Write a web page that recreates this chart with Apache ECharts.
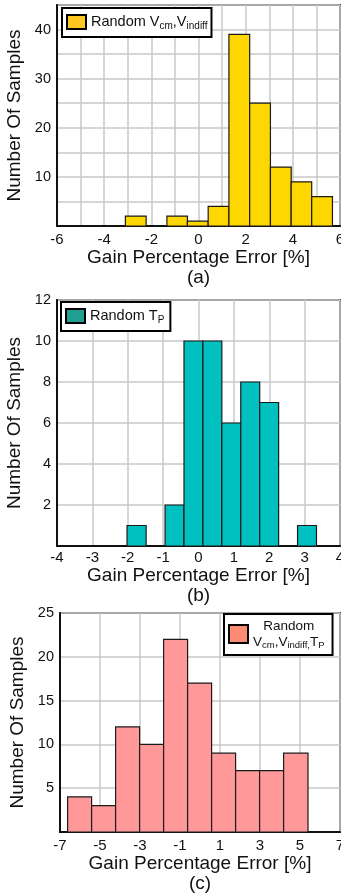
<!DOCTYPE html>
<html lang="en">
<head>
<meta charset="UTF-8">
<title>Gain Percentage Error</title>
<style>
    html, body { margin: 0; padding: 0; background: #fff; }
    #main { width: 341px; height: 894px; }
</style>
</head>
<body>
<div id="main"></div>
<script src="https://cdn.jsdelivr.net/npm/echarts/dist/echarts.min.js"></script>
<script>
// bin edges + counts
var edgesA = [-3.1, -2.22, -1.34, -0.47, 0.41, 1.29, 2.17, 3.05, 3.93, 4.8, 5.68];
var countsA = [2, 0, 2, 1, 4, 39, 25, 12, 9, 6];
var edgesB = [-2.02, -1.48, -0.945, -0.41, 0.125, 0.66, 1.195, 1.73, 2.265, 2.8, 3.335];
var countsB = [1, 0, 2, 10, 10, 6, 8, 7, 0, 1];
var edgesC = [-6.62, -5.42, -4.22, -3.02, -1.82, -0.62, 0.58, 1.78, 2.98, 4.18, 5.4];
var countsC = [4, 3, 12, 10, 22, 17, 9, 7, 7, 9];

// axis ranges [min, max, interval]
var xAxisA = [-6, 6, 1], yAxisA = [0, 45, 5];
var xAxisB = [-4, 4, 1], yAxisB = [0, 12, 2];
var xAxisC = [-7, 7, 2], yAxisC = [0, 25, 5];

var seriesNames = ['Random Vcm,Vindiff', 'Random TP', 'Random Vcm,Vindiff,TP'];
var subTitles = ['(a)', '(b)', '(c)'];

var FONT = '"Liberation Sans", Arial, sans-serif';

function toBins(edges, counts) {
    var out = [];
    for (var i = 0; i < counts.length; i++) {
        if (counts[i] > 0) out.push([edges[i], edges[i + 1], counts[i]]);
    }
    return out;
}

function renderBar(params, api) {
    var p0 = api.coord([api.value(0), api.value(2)]);
    var p1 = api.coord([api.value(1), 0]);
    return {
        type: 'rect',
        shape: { x: p0[0], y: p0[1], width: p1[0] - p0[0], height: p1[1] - p0[1] },
        style: api.style({ stroke: '#1a1a1a', lineWidth: 1.2 })
    };
}

var grids = [
    { left: 57, top: 5, width: 283, height: 221 },
    { left: 57, top: 300, width: 283, height: 246 },
    { left: 60, top: 613, width: 280, height: 219 }
];
grids.forEach(function (g) {
    g.show = true;
    g.borderColor = '#444';
    g.borderWidth = 2;
    g.backgroundColor = '#fff';
    g.outerBoundsMode = 'none';
    g.containLabel = false;
});

var nameGaps = [22, 17, 20];
var labelMargins = [6, 4, 6];

function xAxisOf(i, r, labelFn) {
    return {
        type: 'value', gridIndex: i, min: r[0], max: r[1], interval: r[2],
        name: 'Gain Percentage Error [%]\n' + subTitles[i],
        nameLocation: 'middle', nameGap: nameGaps[i],
        nameTextStyle: { fontSize: 19, lineHeight: 20, color: '#111', fontFamily: FONT },
        axisLine: { onZero: false, lineStyle: { color: '#111', width: 2 } },
        axisTick: { show: false },
        axisLabel: { fontSize: 15, color: '#111', fontFamily: FONT, margin: labelMargins[i], formatter: labelFn },
        splitLine: { show: true, lineStyle: { color: '#c8c8c8', width: 1.5 } }
    };
}

function yAxisOf(i, r, labelFn) {
    return {
        type: 'value', gridIndex: i, min: r[0], max: r[1], interval: r[2],
        name: 'Number Of Samples',
        nameLocation: 'middle', nameGap: 30,
        nameTextStyle: { fontSize: 19, color: '#111', fontFamily: FONT },
        axisLine: { show: true, onZero: false, lineStyle: { color: '#111', width: 2 } },
        axisTick: { show: false },
        axisLabel: { fontSize: 14.5, color: '#111', fontFamily: FONT, margin: 6, formatter: labelFn },
        splitLine: { show: true, lineStyle: { color: '#c8c8c8', width: 1.5 } }
    };
}

var richMain = {
    m: { fontSize: 14.5, lineHeight: 18, color: '#111', fontFamily: FONT },
    s: { fontSize: 10, lineHeight: 10, color: '#111', fontFamily: FONT, verticalAlign: 'bottom' },
    mc: { fontSize: 13.5, lineHeight: 16, color: '#111', fontFamily: FONT, align: 'center' },
    sc: { fontSize: 9.5, lineHeight: 9, color: '#111', fontFamily: FONT, verticalAlign: 'bottom', align: 'center' }
};
var legendText = {};
legendText[seriesNames[0]] = '{m|Random V}{s|cm}{m|,V}{s|indiff}';
legendText[seriesNames[1]] = '{m|Random T}{s|P}';
legendText[seriesNames[2]] = '{mc|Random}\n{mc|V}{sc|cm}{mc|,V}{sc|indiff,}{mc|T}{sc|P}';

function legendOf(name, iconColor, left, top, w, h, pad) {
    return {
        left: left, top: top,
        orient: 'vertical',
        backgroundColor: '#fff',
        borderColor: '#000', borderWidth: 2, borderRadius: 0,
        padding: pad,
        icon: 'rect',
        itemWidth: w, itemHeight: h,
        selectedMode: false,
        data: [{ name: name, itemStyle: { color: iconColor, borderColor: '#000', borderWidth: 2 } }],
        formatter: function (n) { return legendText[n]; },
        textStyle: { rich: richMain }
    };
}

var option = {
    animation: false,
    backgroundColor: '#fff',
    grid: grids,
    legend: [
        legendOf(seriesNames[0], '#FFC820', 62, 8, 19, 14, [6, 4, 6, 4]),
        legendOf(seriesNames[1], '#1FA090', 61, 302, 19, 14, [6, 6, 6, 4]),
        legendOf(seriesNames[2], '#FF8A72', 224, 614, 19, 18, [5, 8, 5, 4])
    ],
    xAxis: [
        xAxisOf(0, xAxisA, function (v) { return v % 2 === 0 ? v : ''; }),
        xAxisOf(1, xAxisB, function (v) { return v; }),
        xAxisOf(2, xAxisC, function (v) { return v; })
    ],
    yAxis: [
        yAxisOf(0, yAxisA, function (v) { return (v % 10 === 0 && v !== 0) ? v : ''; }),
        yAxisOf(1, yAxisB, function (v) { return v === 0 ? '' : v; }),
        yAxisOf(2, yAxisC, function (v) { return v === 0 ? '' : v; })
    ],
    series: [
        {
            name: seriesNames[0], type: 'custom', xAxisIndex: 0, yAxisIndex: 0,
            renderItem: renderBar, itemStyle: { color: '#FFD700' },
            encode: { x: [0, 1], y: 2 }, data: toBins(edgesA, countsA)
        },
        {
            name: seriesNames[1], type: 'custom', xAxisIndex: 1, yAxisIndex: 1,
            renderItem: renderBar, itemStyle: { color: '#00C0C0' },
            encode: { x: [0, 1], y: 2 }, data: toBins(edgesB, countsB)
        },
        {
            name: seriesNames[2], type: 'custom', xAxisIndex: 2, yAxisIndex: 2,
            renderItem: renderBar, itemStyle: { color: '#FF9999' },
            encode: { x: [0, 1], y: 2 }, data: toBins(edgesC, countsC)
        }
    ]
};

var myChart = echarts.init(document.getElementById('main'), null, { renderer: 'canvas' });
myChart.setOption(option);
window.addEventListener('resize', myChart.resize);
</script>
</body>
</html>
